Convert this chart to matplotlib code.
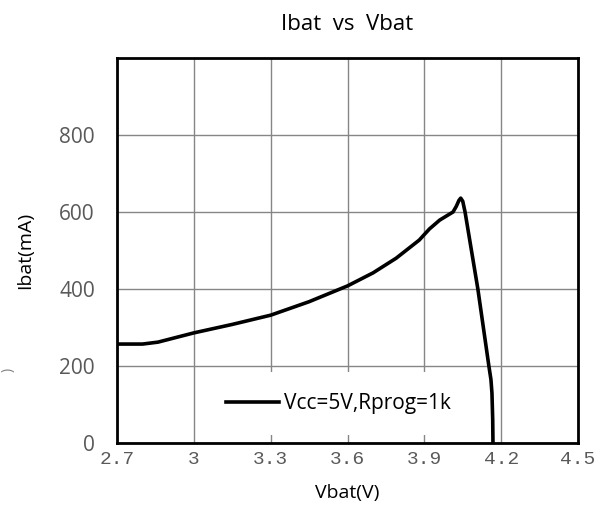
import matplotlib
matplotlib.use("Agg")
import matplotlib.pyplot as plt

# Ibat vs Vbat charge curve
vbat = [2.70, 2.80, 2.86, 3.00, 3.15, 3.30, 3.45, 3.60, 3.70, 3.79, 3.88, 3.92,
        3.96, 4.012, 4.025, 4.035, 4.042, 4.05, 4.059, 4.109, 4.152, 4.160,
        4.164, 4.167, 4.168]
ibat = [257, 257, 262, 286, 308, 332, 367, 408, 442, 480, 527, 556,
        579, 600, 615, 630, 636, 628, 600, 400, 200, 165,
        130, 60, 0]

xticks = [2.7, 3.0, 3.3, 3.6, 3.9, 4.2, 4.5]
xticklabels = ["2.7", "3", "3.3", "3.6", "3.9", "4.2", "4.5"]
yticks = [0, 200, 400, 600, 800]

sans = ["Open Sans", "DejaVu Sans"]
mono = ["Liberation Mono", "DejaVu Sans Mono"]
label_grey = "#595959"

fig = plt.figure(figsize=(6.06, 5.27), dpi=100)
ax = fig.add_axes([117 / 606, 1 - 443 / 527, 461 / 606, 385 / 527])

ax.plot(vbat, ibat, color="black", lw=2.6, solid_joinstyle="round",
        label="Vcc=5V,Rprog=1k", zorder=3)

ax.set_xlim(2.7, 4.5)
ax.set_ylim(0, 1000)
ax.set_xticks(xticks)
ax.set_xticklabels(xticklabels, family=mono, fontsize=14, color=label_grey)
ax.set_yticks(yticks)
ax.set_yticklabels([str(v) for v in yticks], family=sans, fontsize=15,
                   color=label_grey)
ax.tick_params(length=0)
ax.tick_params(axis="x", pad=6)
ax.tick_params(axis="y", pad=16)
ax.grid(True, color="#868686", lw=1.0)
ax.set_axisbelow(True)
for s in ax.spines.values():
    s.set_linewidth(2.0)
    s.set_color("black")

ax.set_title("Ibat  vs  Vbat", family=sans, fontsize=16, pad=20)
ax.set_xlabel("Vbat(V)", family=sans, fontsize=14, labelpad=11)
ax.set_ylabel("Ibat(mA)", family=sans, fontsize=14, labelpad=18)

leg = ax.legend(loc="lower left", bbox_to_anchor=(0.191, 0.021),
                borderaxespad=0, frameon=True,
                prop={"family": sans, "size": 15}, handlelength=2.55,
                handletextpad=0.25, borderpad=1.0)
leg.get_frame().set_edgecolor("none")
leg.get_frame().set_facecolor("white")
leg.get_frame().set_alpha(1.0)
leg.get_frame().set_boxstyle("square", pad=0)

# stray clipped glyph at the left edge of the original image
fig.text(0.013, 1 - 370 / 527, ")", rotation=90, family=sans, fontsize=10,
         color="#7f7f7f", ha="center", va="center")

fig.savefig("out.png", dpi=100)
